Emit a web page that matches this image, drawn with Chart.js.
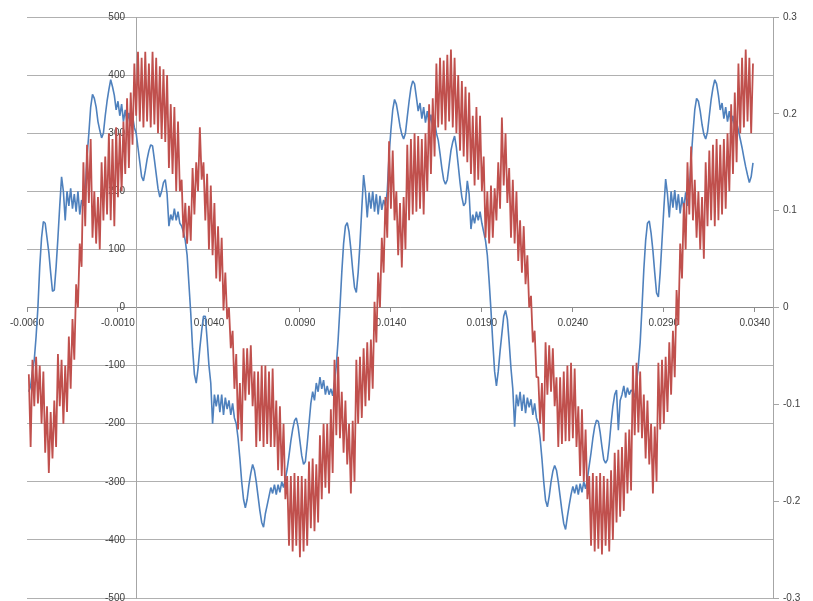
<!DOCTYPE html>
<html><head><meta charset="utf-8">
<script src="https://cdn.jsdelivr.net/npm/chart.js@4/dist/chart.umd.min.js"></script>
<style>html,body{margin:0;padding:0;background:#fff;overflow:hidden}#wrap{width:813px;height:601px}</style>
</head><body><div id="wrap"><canvas id="c" width="813" height="601"></canvas></div>
<script>
// sampling clock of both traces (seconds)
const sampleStart = -0.0059;
const sampleStep = 0.0001;

// axis tick labels
const xTickValues = [-0.006, -0.001, 0.004, 0.009, 0.014, 0.019, 0.024, 0.029, 0.034];
const leftTickValues = [-500, -400, -300, -200, -100, 0, 100, 200, 300, 400, 500];
const rightTickValues = [-0.3, -0.2, -0.1, 0, 0.1, 0.2, 0.3];

// blue trace (left axis units)
const blueValues = [
-145,-135,-110,-90,-50,0,70,120,148,145,
120,95,60,28,30,70,120,175,225,200,
150,200,175,205,170,195,165,200,160,185,
175,200,260,300,345,367,360,345,320,305,
292,300,330,355,375,392,380,365,340,355,
330,350,320,340,318,335,312,330,310,300,
275,250,225,218,235,255,270,280,278,255,
230,205,190,200,215,220,195,140,160,150,
170,150,165,145,140,130,115,90,40,-10,
-70,-115,-130,-105,-70,-40,-15,-15,-55,-100,
-130,-200,-150,-170,-150,-180,-150,-185,-155,-175,
-160,-185,-165,-190,-200,-225,-260,-300,-330,-345,
-330,-305,-285,-270,-280,-300,-325,-350,-370,-378,
-355,-340,-325,-310,-320,-305,-322,-305,-318,-300,
-310,-295,-278,-255,-230,-210,-195,-190,-205,-230,
-255,-270,-265,-235,-200,-165,-145,-160,-130,-145,
-120,-140,-125,-150,-135,-150,
-140,-152,-128,-100,-55,0,60,110,140,146,
130,100,65,35,26,60,110,170,228,200,
155,198,170,200,165,195,160,192,168,185,
175,200,262,305,340,358,350,332,312,298,
290,300,328,355,378,390,385,362,338,352,
325,345,318,338,315,332,308,322,300,288,
265,240,220,212,220,245,270,285,295,275,
245,215,190,175,180,218,195,135,160,145,
165,150,165,145,130,115,90,45,-5,-60,
-110,-135,-110,-75,-45,-15,-5,-20,-60,-105,
-140,-205,-150,-170,-145,-178,-150,-182,-155,-172,
-158,-185,-165,-190,-200,-225,-260,-300,-332,-343,
-325,-300,-282,-272,-280,-300,-325,-350,-372,-382,
-360,-340,-322,-308,-320,-305,-322,-303,-318,-300,
-312,-295,-272,-250,-225,-205,-194,-196,-215,-240,
-262,-268,-262,-235,-200,-170,-150,-142,-211,-160,
-150,-135,-155,-138,-150,-142,
-145,-155,-130,-100,-60,0,65,115,145,149,
128,98,60,25,18,60,115,170,221,195,
155,200,172,202,168,195,162,190,170,198,
175,200,255,300,340,360,355,338,315,298,
290,302,330,358,378,392,385,365,340,352,
325,345,320,338,315,330,308,318,305,290,
275,258,242,228,215,225,249
];

// red trace (left axis units)
const redValues = [
-115,-240,-90,-170,-85,-165,-100,-200,-110,-250,
-170,-285,-180,-260,-160,-240,-80,-170,-90,-200,
-100,-180,-50,-140,-20,-90,40,0,110,70,
250,140,280,180,290,120,200,110,190,100,
250,150,260,160,300,150,290,140,310,190,
300,200,320,230,360,240,370,280,420,330,
440,320,430,310,440,320,420,310,440,315,
430,300,415,290,410,285,400,240,350,230,
345,200,320,200,220,120,180,110,175,115,
240,160,250,200,310,220,250,150,230,100,
210,90,180,50,140,45,120,-5,60,-20,
0,-70,-40,-140,-80,-210,-130,-230,-70,-160,
-70,-150,-65,-170,-110,-240,-110,-230,-100,-240,
-100,-235,-110,-240,-105,-240,-160,-280,-170,-290,
-200,-330,-290,-410,-290,-420,-285,-410,-290,-430,
-290,-420,-295,-410,-265,-380,-260,-385,-270,-370,
-220,-330,-200,-310,-200,-320,
-175,-285,-90,-220,-85,-225,-145,-250,-160,-270,
-200,-320,-195,-300,-90,-200,-85,-190,-70,-170,
-60,-160,-55,-140,10,-60,60,0,120,60,
190,120,286,170,270,150,200,90,180,69,
190,100,280,150,290,160,300,165,295,170,
290,160,300,200,350,230,360,260,420,310,
430,315,425,305,435,320,444,310,430,300,
400,270,390,260,380,250,370,230,330,210,
345,220,330,200,260,120,200,110,210,120,
205,150,250,170,327,210,300,180,240,120,
220,110,200,80,150,60,140,40,90,0,
20,-60,-40,-120,-120,-200,-130,-230,-60,-150,
-65,-145,-70,-170,-120,-240,-120,-235,-110,-230,
-100,-230,-95,-225,-105,-240,-170,-290,-175,-300,
-210,-330,-290,-410,-285,-420,-290,-415,-285,-425,
-290,-410,-295,-420,-280,-400,-250,-370,-245,-360,
-240,-350,-215,-320,-210,-315,
-100,-220,-95,-215,-110,-225,-150,-260,-160,-270,
-200,-320,-205,-300,-95,-210,-90,-200,-85,-180,
-60,-150,-40,-120,30,-30,110,50,180,100,
250,160,277,150,220,120,200,100,190,84,
250,140,270,150,280,140,290,150,280,160,
290,170,300,200,350,230,370,250,420,300,
430,310,444,320,430,300,420
];

const toPoints = vals => vals.map((v, i) => ({ x: +(sampleStart + i * sampleStep).toFixed(5), y: v }));

const FONT = { family: '"Liberation Sans", Arial, sans-serif', size: 10 };
const TXT = '#404040';
const GAP = '\u2007\u2007'; // keeps left-axis labels clear of the axis line

new Chart(document.getElementById('c'), {
  type: 'line',
  data: {
    datasets: [
      { label: 'Series 2', data: toPoints(redValues), borderColor: '#C0504D', borderWidth: 1.8, pointRadius: 0, tension: 0, borderJoinStyle: 'bevel', yAxisID: 'y', order: 0 },
      { label: 'Series 1', data: toPoints(blueValues), borderColor: '#4F81BD', borderWidth: 1.6, pointRadius: 0, tension: 0, borderJoinStyle: 'bevel', yAxisID: 'y', order: 1 }
    ]
  },
  options: {
    responsive: false,
    animation: false,
    devicePixelRatio: 1,
    layout: { padding: { left: 27, top: 17, right: 0, bottom: 3 } },
    plugins: { legend: { display: false }, tooltip: { enabled: false } },
    scales: {
      x: {
        type: 'linear', min: -0.006, max: 0.035, position: { y: 0 },
        afterBuildTicks: s => { s.ticks = xTickValues.map(v => ({ value: v })); },
        ticks: { callback: v => v.toFixed(4), font: FONT, color: TXT, maxRotation: 0, autoSkip: false, padding: 6 },
        grid: { drawOnChartArea: false, tickLength: 4, color: '#8c8c8c' },
        border: { color: '#8c8c8c' }
      },
      y: {
        type: 'linear', min: -500, max: 500, position: { x: 0 },
        afterBuildTicks: s => { s.ticks = leftTickValues.map(v => ({ value: v })); },
        afterFit: s => { s.paddingTop = 0; s.paddingBottom = 0; },
        ticks: { callback: v => String(v) + GAP, font: FONT, color: TXT, padding: 3 },
        grid: { color: '#b0b0b0', tickLength: 6 },
        border: { color: '#a6a6a6' }
      },
      y2: {
        type: 'linear', min: -0.3, max: 0.3, position: 'right',
        afterBuildTicks: s => { s.ticks = rightTickValues.map(v => ({ value: v })); },
        afterFit: s => { s.width = 40; s.paddingTop = 0; s.paddingBottom = 0; },
        ticks: { callback: v => String(Math.round(v * 10) / 10), font: FONT, color: TXT, padding: 4 },
        grid: { drawOnChartArea: false, tickLength: 6, color: '#a6a6a6' },
        border: { color: '#a6a6a6' }
      }
    }
  }
});
</script></body></html>
